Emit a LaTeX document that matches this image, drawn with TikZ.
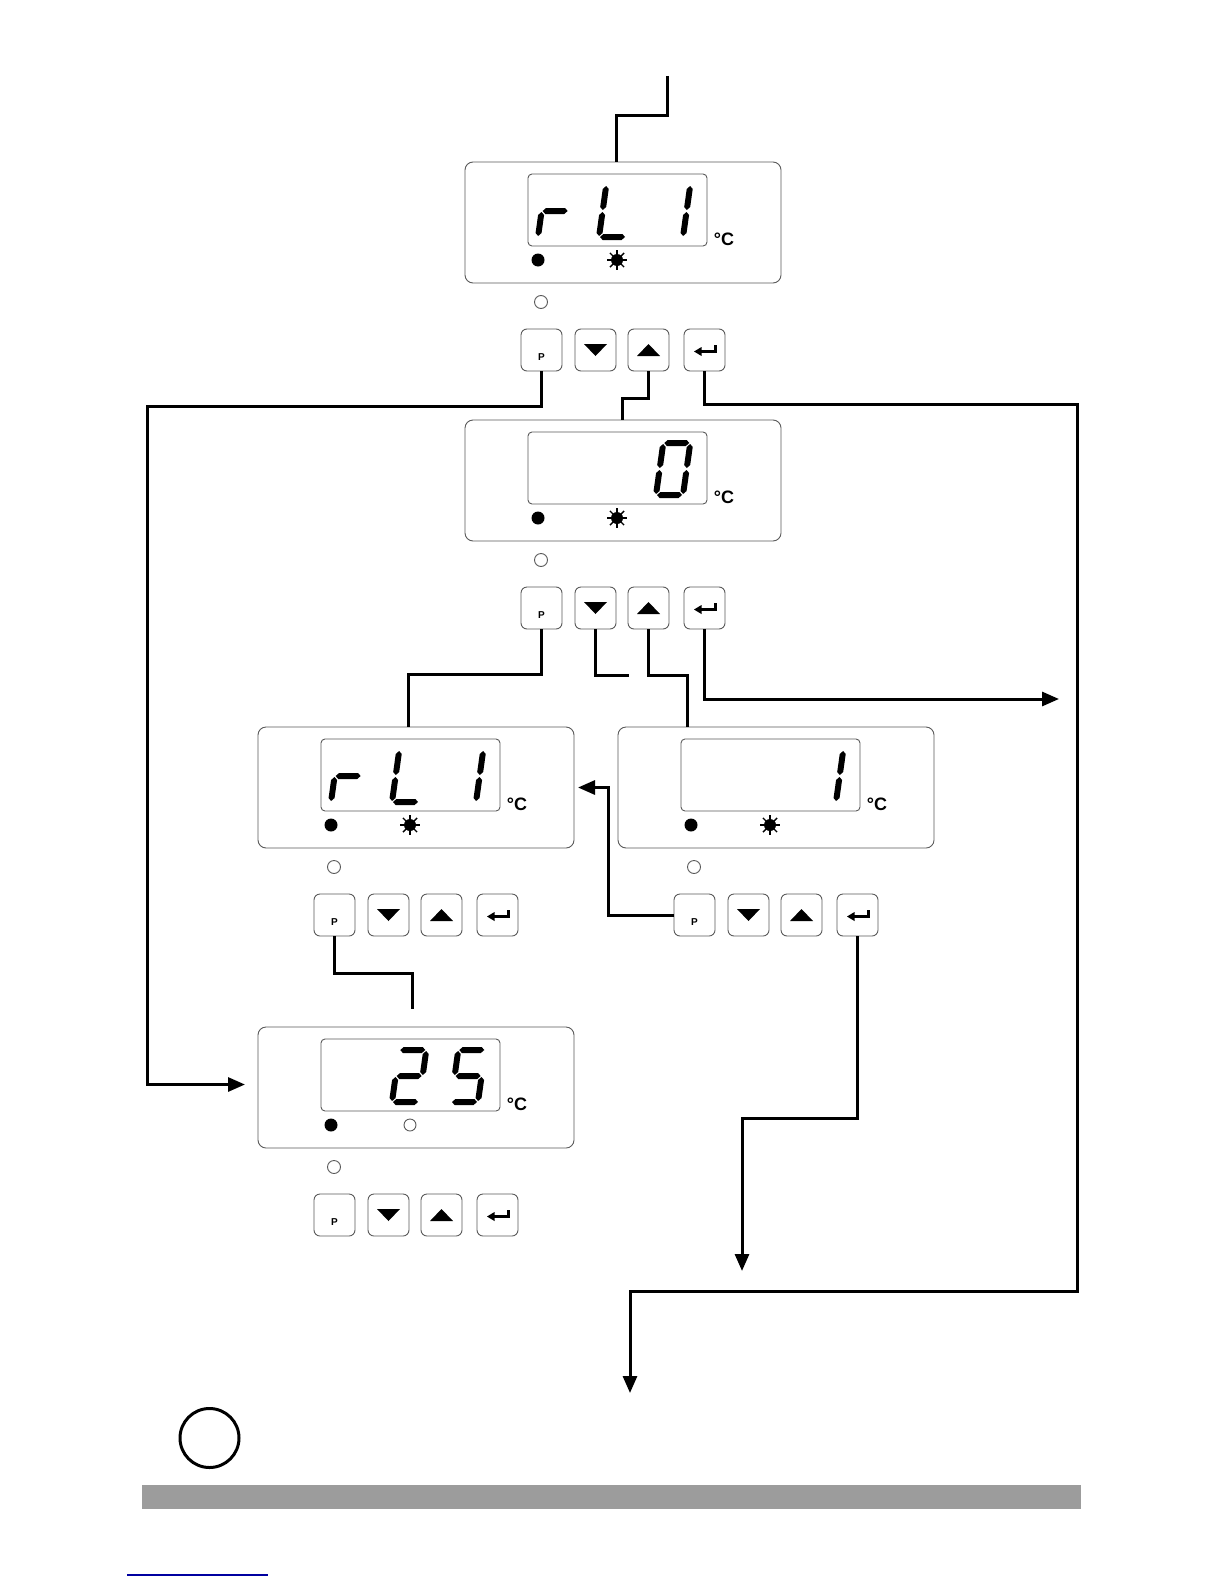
\documentclass[tikz,border=0pt]{standalone}
\usepackage{fontspec}
\setmainfont{Liberation Sans}
\usetikzlibrary{arrows.meta,calc}
\definecolor{boxgray}{RGB}{90,90,90}
\definecolor{bargray}{RGB}{156,156,156}
\definecolor{linkblue}{RGB}{0,0,160}
\tikzset{
 outerbox/.style={draw=boxgray, line width=0.9pt, rounded corners=8pt, inner sep=0, outer sep=0, minimum width=316pt, minimum height=121pt},
 lcdbox/.style={draw=boxgray, line width=0.9pt, rounded corners=4pt, inner sep=0, outer sep=0, minimum width=179pt, minimum height=72pt},
 keybox/.style={draw=boxgray, line width=0.9pt, rounded corners=6pt, inner sep=0, outer sep=0, minimum width=41pt, minimum height=42pt},
 degc/.style={font=\bfseries\fontsize{18}{18}\selectfont, inner sep=0},
 keylabel/.style={font=\bfseries\fontsize{10}{10}\selectfont, inner sep=0},
 sga/.style={insert path={(1,52)--(4,55)--(23,55)--(26,52)--(23,49)--(4,49)--cycle}},
 sgg/.style={insert path={(1,26)--(4,29)--(23,29)--(26,26)--(23,23)--(4,23)--cycle}},
 sgd/.style={insert path={(1,0)--(4,3)--(23,3)--(26,0)--(23,-3)--(4,-3)--cycle}},
 sgf/.style={insert path={(0,51)--(3,48)--(3,30)--(0,27)--(-3,30)--(-3,48)--cycle}},
 sge/.style={insert path={(0,25)--(3,22)--(3,4)--(0,1)--(-3,4)--(-3,22)--cycle}},
 sgb/.style={insert path={(27,51)--(30,48)--(30,30)--(27,27)--(24,30)--(24,48)--cycle}},
 sgc/.style={insert path={(27,25)--(30,22)--(30,4)--(27,1)--(24,4)--(24,22)--cycle}},
 conn/.style={line width=3pt, line join=miter},
 arr/.style={-{Triangle[length=17pt,width=14pt]}},
}
\newcommand\sevseg[2]{%
 \begin{scope}[shift={(#1,75)}, y=1pt, xslant=0.14]
  \foreach \s in {#2}{\fill[sg\s];}
 \end{scope}}
\newcommand\sunmark{%
 \fill (152,98) circle[radius=6];
 \foreach \a in {0,45,...,315}{\draw[line width=1.4pt] (152,98) ++(\a:5) -- ++(\a:5);}}
\newcommand\ringmark{\draw[boxgray, line width=0.9pt] (152,98) circle[radius=6];}
\newcommand\panel[5]{%
 \begin{scope}[shift={(#2,#3)}]
  \node[outerbox] (d#1) at (158,60.5) {};
  \node[lcdbox] (l#1) at (152.5,48) {};
  #4
  \fill (73,98) circle[radius=6.5];
  #5
  \node[degc] (c#1) at (259,77) {°C};
  \draw[boxgray, line width=0.9pt] (76,140) circle[radius=6.5];
  \node[keybox] (p#1) at (76.5,188) {};
  \node[keybox] (dn#1) at (130.5,188) {};
  \node[keybox] (up#1) at (183.5,188) {};
  \node[keybox] (en#1) at (239.5,188) {};
  \node[keylabel] (pl#1) at ($(p#1.center)+(0,7)$) {P};
  \fill ($(dn#1.center)+(-11.5,-6)$) -- ++(23,0) -- ++(-11.5,12) -- cycle;
  \fill ($(up#1.center)+(-11.5,6)$) -- ++(23,0) -- ++(-11.5,-12) -- cycle;
  \draw[line width=3.2pt] ($(en#1.center)+(11,-5)$) -- ++(0,6.5) -- ++(-15,0);
  \fill ($(en#1.center)+(-10.5,1.5)$) -- ++(7.5,-4.5) -- ++(0,9) -- cycle;
 \end{scope}}
\begin{document}
\begin{tikzpicture}[x=1pt,y=-1pt]
\useasboundingbox (0,0) rectangle (1224,1584);
\fill[white] (0,0) rectangle (1224,1584);

\panel{1}{465}{162}{\sevseg{73}{e,g}\sevseg{134}{d,e,f}\sevseg{191}{b,c}}{\sunmark}
\panel{2}{465}{420}{\sevseg{191}{a,b,c,d,e,f}}{\sunmark}
\panel{3}{258}{727}{\sevseg{73}{e,g}\sevseg{134}{d,e,f}\sevseg{191}{b,c}}{\sunmark}
\panel{4}{618}{727}{\sevseg{191}{b,c}}{\sunmark}
\panel{5}{258}{1027}{\sevseg{134}{a,b,g,e,d}\sevseg{193}{a,f,g,c,d}}{\ringmark}

% connectors
\coordinate (top) at (667,76);
\draw[conn] (top) -- ++(0,40) -| ([xshift=-7pt]d1.north);
\draw[conn,arr] (p1.south) |- (147,406) |- ([xshift=-13pt,yshift=3pt]d5.west);
\draw[conn] (up1.south) -- ++(0,27) -| ([xshift=-1pt]d2.north);
\coordinate (exit2) at (630,1393);
\draw[conn,arr] (en1.south) |- (1077,404) |- (630,1291) -- (exit2);

\draw[conn] (p2.south) -- ++(0,45) -| ([xshift=-8pt]d3.north);
\coordinate (stub) at (629,675);
\draw[conn] (dn2.south) |- (stub);
\draw[conn] (up2.south) -- ++(0,46) -| ([xshift=-89pt]d4.north);
\coordinate (exit1) at (1059,699);
\draw[conn,arr] (en2.south) |- (exit1);

\draw[conn,arr] (p4.west) -| ([xshift=34pt]d3.east) -- ([xshift=4pt]d3.east);
\coordinate (exit3) at (742,1271);
\draw[conn,arr] (en4.south) |- (742,1118) -- (exit3);
\coordinate (c35) at (412,1009);
\draw[conn] (p3.south) |- (412,973) -- (c35);

% footer
\node[draw, circle, line width=3pt, minimum size=59pt, inner sep=0] (mark) at (209.5,1438) {};
\fill[bargray] (142,1485) rectangle (1081,1509);
\draw[linkblue, line width=1.3pt] (127,1575) -- (268,1575);
\end{tikzpicture}
\end{document}
